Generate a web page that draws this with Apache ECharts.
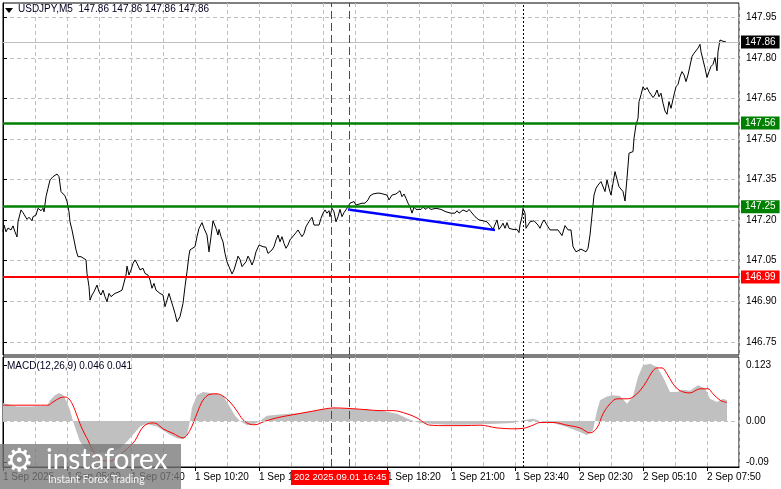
<!DOCTYPE html>
<html><head><meta charset="utf-8">
<script src="https://cdn.jsdelivr.net/npm/echarts@6/dist/echarts.min.js"></script>
<style>html,body{margin:0;padding:0;background:#fff}#c{width:781px;height:489px}</style>
</head><body><div id="c"></div>
<script>
// ---- data ----
const timeLabels = ['1 Sep 2025','1 Sep 05:00','1 Sep 07:40','1 Sep 10:20','1 Sep 13:00','1 Sep 15:40','1 Sep 18:20','1 Sep 21:00','1 Sep 23:40','2 Sep 02:30','2 Sep 05:10','2 Sep 07:50'];
const priceTicks = [146.75,146.90,147.05,147.20,147.35,147.50,147.65,147.80,147.95];
const macdTicks = [-0.09,0,0.123];
const macdTickText = ['-0.09','0.00','0.123'];
const greenLevels = [147.56,147.25];
const redLevels = [146.99];
const lastPrice = 147.86;
const trendLine = [[172.5,147.240],[246,147.164]];
const markerBars = [164.3,173.2];
const dottedBar = 260;
// [bar index, close]
const price = [
[0,147.157],[0.5,147.182],[1.5,147.157],[2.5,147.171],[4,147.164],[5,147.179],[6,147.157],[7,147.138],[7.5,147.194],[9,147.238],[10,147.228],[11,147.223],[12,147.203],[13,147.211],[14.5,147.198],[15,147.213],[16.5,147.219],[17.5,147.244],[19,147.235],[20,147.244],[20.5,147.231],[21.5,147.287],[22.5,147.318],[23.5,147.349],[25,147.361],[26,147.367],[27,147.371],[28,147.361],[29,147.306],[30,147.309],[31,147.290],[32,147.269],[33,147.231],[33.5,147.194],[34.5,147.164],[35.5,147.127],[36.5,147.090],[37.5,147.065],[39,147.065],[40,147.071],[41.5,147.053],[42,147.003],[43,146.954],[43.5,146.904],[44.5,146.923],[45.5,146.935],[47,146.960],[48,146.935],[49,146.923],[50,146.941],[51,146.917],[52,146.898],[53,146.929],[54,146.917],[55,146.911],[56,146.929],[57,146.923],[58,146.935],[59.5,146.941],[60.5,146.948],[61.5,146.997],[62,147.030],[63,146.997],[64,147.016],[65,147.040],[66,147.053],[67,147.040],[68.5,147.016],[70,147.022],[71,147.003],[72.5,146.997],[73.5,146.979],[74.5,146.948],[75.5,146.966],[76.5,146.941],[77.5,146.948],[78.5,146.929],[80,146.923],[81,146.880],[82,146.904],[83,146.929],[84,146.904],[85,146.880],[86,146.855],[87,146.824],[88.5,146.843],[90,146.892],[91,146.954],[92,147.009],[93,147.071],[93.5,147.090],[94.5,147.096],[96,147.102],[97,147.139],[98,147.170],[99.5,147.191],[100.5,147.170],[102,147.145],[103,147.083],[104,147.139],[105,147.198],[106.5,147.170],[107.5,147.145],[108,147.166],[109,147.139],[110,147.120],[111,147.077],[112,147.046],[113,147.028],[114.5,147.001],[115.5,147.016],[117,147.053],[117.5,147.067],[118.5,147.055],[119.5,147.028],[120.5,147.022],[121.5,147.046],[122.5,147.067],[123.5,147.053],[124.5,147.034],[125.5,147.053],[126.5,147.083],[128,147.108],[129,147.112],[130,147.102],[131.5,147.100],[132.5,147.077],[133.5,147.083],[134.5,147.090],[135.5,147.102],[136.5,147.127],[137.5,147.145],[138.5,147.120],[139.5,147.139],[140.5,147.114],[141.5,147.096],[142.5,147.108],[143.5,147.127],[144.5,147.133],[145.5,147.145],[146.5,147.154],[147.5,147.164],[148.5,147.151],[149.5,147.139],[150.5,147.151],[151.5,147.176],[152.5,147.189],[153.5,147.201],[154.5,147.211],[155.5,147.182],[156.5,147.182],[158,147.182],[159,147.207],[160,147.226],[161,147.238],[162,147.226],[163,147.235],[163.5,147.213],[164.5,147.244],[165.5,147.231],[166.5,147.194],[167.5,147.213],[168.5,147.240],[169.5,147.213],[170.5,147.228],[171.5,147.235],[172.5,147.250],[173.5,147.263],[174.5,147.256],[175.5,147.269],[176.5,147.256],[177.5,147.263],[179.5,147.263],[181,147.263],[182.5,147.275],[183.5,147.290],[185,147.297],[186,147.293],[187,147.300],[188.5,147.300],[190,147.297],[191,147.302],[192,147.293],[193,147.275],[194.5,147.293],[195.5,147.287],[196.5,147.297],[197.5,147.293],[198.5,147.309],[199.5,147.287],[200.5,147.297],[201.5,147.281],[202.5,147.263],[203.5,147.250],[204.5,147.226],[205.5,147.248],[206.5,147.240],[207.5,147.244],[209,147.240],[210,147.248],[211.5,147.240],[212.5,147.248],[214,147.240],[215,147.235],[216.5,147.244],[217.5,147.240],[219,147.240],[220,147.238],[221.5,147.231],[222.5,147.231],[224,147.226],[225,147.231],[226,147.226],[227,147.235],[228,147.226],[229,147.231],[230,147.238],[231,147.238],[232,147.231],[233,147.240],[234,147.231],[235,147.228],[236,147.213],[237,147.216],[238,147.201],[239,147.194],[240,147.198],[241,147.191],[242,147.194],[243,147.189],[244,147.176],[245,147.166],[246,147.170],[247,147.201],[248,147.166],[249,147.176],[250,147.189],[251,147.170],[252,147.191],[253,147.170],[254,147.164],[255,147.166],[256,147.161],[257,147.166],[258,147.154],[258.5,147.182],[259.5,147.213],[260,147.244],[261,147.226],[261.5,147.170],[262.5,147.182],[263.5,147.194],[264.5,147.201],[265.5,147.198],[266.5,147.201],[267.5,147.182],[268.5,147.170],[269.5,147.189],[270.5,147.201],[271.5,147.194],[272.5,147.176],[273.5,147.164],[275,147.164],[276,147.161],[277.5,147.164],[278.5,147.157],[279.5,147.143],[281,147.180],[282.5,147.164],[284,147.164],[285,147.102],[286.5,147.083],[287.5,147.083],[289,147.093],[290,147.090],[291.5,147.083],[292.5,147.096],[293.5,147.145],[294.5,147.219],[295.5,147.293],[296.5,147.318],[297.5,147.330],[299,147.343],[300,147.349],[301,147.306],[302,147.349],[303,147.318],[304,147.293],[305,147.337],[306,147.380],[307,147.380],[308,147.324],[309,147.330],[310,147.306],[311,147.271],[312,147.355],[313,147.448],[314,147.454],[315,147.454],[315.5,147.503],[316.5,147.553],[317.5,147.577],[318,147.639],[319,147.664],[320,147.694],[321,147.682],[322,147.691],[323,147.676],[324,147.670],[325,147.654],[326,147.664],[327,147.682],[328,147.657],[329,147.670],[330,147.633],[331,147.604],[332,147.592],[333,147.639],[334,147.614],[335,147.614],[335.5,147.664],[336.5,147.694],[337.5,147.703],[338.5,147.731],[339.5,147.750],[340.5,147.738],[341.5,147.713],[342.5,147.738],[343.5,147.744],[344.5,147.806],[345.5,147.818],[346.5,147.824],[347.5,147.837],[348.5,147.851],[349,147.824],[350,147.793],[351,147.763],[352,147.728],[353,147.750],[354,147.769],[355,147.777],[356,147.802],[357,147.753],[357.5,147.824],[358.5,147.867],[359.5,147.871],[360.5,147.861],[361.5,147.860]
];
const macdHist = [
[0,0.040],[3.5,0.036],[7,0.032],[13.5,0.032],[18.5,0.033],[22,0.033],[23.5,0.046],[26,0.057],[28,0.062],[30,0.058],[32,0.042],[33.5,0.024],[35,0.0],[36.5,-0.020],[38.5,-0.045],[41,-0.060],[43.5,-0.068],[48.5,-0.070],[53.5,-0.068],[58.5,-0.060],[62,-0.045],[65,-0.030],[68.5,-0.012],[72,-0.006],[73.5,-0.008],[77,-0.012],[80,-0.020],[83.5,-0.030],[87,-0.038],[90,-0.040],[92,-0.030],[93.5,0.0],[94.5,0.030],[97,0.057],[100,0.064],[103.5,0.062],[107,0.060],[110,0.055],[113.5,0.031],[116,0.012],[118.5,0.0],[122,-0.009],[126,-0.006],[128.5,0.0],[132,0.012],[140,0.015],[148.5,0.018],[157,0.024],[165,0.029],[173.5,0.027],[182,0.025],[190,0.022],[197,0.016],[203.5,0.003],[208.5,-0.004],[213.5,-0.006],[222,-0.008],[230,-0.008],[238.5,-0.007],[247,-0.006],[255,-0.004],[260,0.002],[265,0.005],[268.5,0.0],[275,-0.004],[282,-0.013],[288.5,-0.024],[292,-0.031],[295,-0.020],[297,0.023],[298.5,0.046],[302,0.054],[305,0.057],[308.5,0.055],[312,0.038],[315,0.055],[317.5,0.097],[320,0.123],[323.5,0.126],[327,0.119],[330,0.097],[333.5,0.064],[337,0.064],[340,0.069],[343.5,0.067],[347.5,0.079],[351,0.072],[353.5,0.049],[357,0.042],[360,0.049],[362,0.046]
];
const macdSignal = [
[0,0.035],[7,0.035],[15,0.035],[22.5,0.035],[25,0.042],[28.5,0.051],[31,0.053],[33.5,0.046],[36,0.024],[38.5,-0.006],[41,-0.030],[42.5,-0.042],[44.5,-0.062],[47,-0.078],[50,-0.087],[53.5,-0.088],[57,-0.080],[61,-0.065],[63.5,-0.055],[66,-0.043],[70,-0.013],[74.5,-0.004],[77,-0.006],[80,-0.017],[85,-0.027],[90,-0.037],[93.5,-0.020],[97,0.017],[100,0.046],[103.5,0.059],[107,0.060],[110,0.055],[113.5,0.042],[117,0.022],[120,0.003],[123.5,-0.007],[126,-0.008],[130,-0.002],[135,0.005],[140,0.010],[145,0.014],[150,0.018],[155,0.022],[160,0.026],[165,0.029],[172,0.028],[182,0.025],[188.5,0.023],[195,0.023],[202,0.016],[207,0.007],[213.5,-0.009],[222,-0.010],[230,-0.010],[238.5,-0.009],[247,-0.015],[255,-0.017],[260,-0.016],[265,-0.009],[268.5,-0.003],[275,-0.003],[282,-0.009],[288.5,-0.015],[293.5,-0.026],[297,-0.015],[300,0.016],[303.5,0.038],[307,0.049],[312,0.049],[315,0.053],[318.5,0.067],[322,0.089],[324.5,0.108],[327,0.117],[329.5,0.117],[332,0.104],[335,0.082],[338.5,0.067],[343.5,0.062],[348.5,0.071],[352.5,0.071],[355,0.060],[358.5,0.046],[362,0.041]
];

// ---- chart ----
const FONT = 'Liberation Sans';
const dashed = {color:'#c0c0c0', type:[4,3], width:1};
const chart = echarts.init(document.getElementById('c'));
function levelLine(v, lineColor, boxColor, width){
  return {yAxis:v, lineStyle:{color:lineColor, width:width, type:'solid'},
    label:{show:true, position:'end', distance:2, formatter:v.toFixed(2), color:'#fff', backgroundColor:boxColor,
      padding:[2,4,1,4], fontSize:10, fontFamily:FONT}};
}
const priceMarks = [
  levelLine(lastPrice,'#c0c0c0','#000',1),
  ...greenLevels.map(v=>levelLine(v,'#008000','#008000',2.5)),
  ...redLevels.map(v=>levelLine(v,'#ff0000','#ff0000',2)),
  ...markerBars.map(b=>({xAxis:b, lineStyle:{color:'#ff0000', width:1, type:[8,4]}, label:{show:false}})),
  {xAxis:dottedBar, lineStyle:{color:'#000', width:1, type:[2,2]}, label:{show:false}}
];
const macdMarks = [
  {yAxis:0, lineStyle:{color:'#c0c0c0', width:1, type:[4,3]}, label:{show:false}},
  ...markerBars.map(b=>({xAxis:b, lineStyle:{color:'#ff0000', width:1, type:[8,4]}, label:{show:false}})),
  {xAxis:dottedBar, lineStyle:{color:'#000', width:1, type:[2,2]}, label:{show:false}}
];
const option = {
  animation:false,
  backgroundColor:'#fff',
  grid:[
    {left:3, top:3, width:736, height:352, show:true, borderColor:'#000', borderWidth:1},
    {left:3, top:357, width:736, height:110, show:true, borderColor:'#000', borderWidth:1}
  ],
  xAxis:[
    {gridIndex:0, type:'value', min:0, max:368, interval:16, axisLine:{show:false}, axisTick:{show:false}, axisLabel:{show:false}, splitLine:{show:true, lineStyle:dashed}},
    {gridIndex:1, type:'value', min:0, max:368, interval:16, position:'bottom', axisLine:{show:true, onZero:false, lineStyle:{color:'#000'}}, axisTick:{show:false}, axisLabel:{show:false}, splitLine:{show:true, lineStyle:dashed}},
    {gridIndex:1, type:'value', min:0, max:368, interval:32, position:'bottom', axisLine:{show:false, onZero:false}, axisTick:{show:true, length:4, lineStyle:{color:'#000'}},
      axisLabel:{show:true, align:'left', margin:5, fontSize:10, fontFamily:FONT, color:'#000', showMaxLabel:false,
        formatter:v=>{const k=Math.round(v/32); return (Math.abs(v-k*32)<1e-6 && k<timeLabels.length)?timeLabels[k]:'';}},
      splitLine:{show:false}}
  ],
  yAxis:[
    {gridIndex:0, type:'value', position:'right', min:146.701, max:148.004,
      axisLine:{show:true, lineStyle:{color:'#000'}}, axisTick:{show:true, length:4, customValues:priceTicks, lineStyle:{color:'#000'}},
      axisLabel:{customValues:priceTicks, margin:7, fontSize:10, fontFamily:FONT, color:'#000', formatter:v=>v.toFixed(2)},
      splitLine:{show:true, lineStyle:dashed}},
    {gridIndex:1, type:'value', position:'right', min:-0.101, max:0.141,
      axisLine:{show:true, lineStyle:{color:'#000'}}, axisTick:{show:true, length:4, customValues:macdTicks, lineStyle:{color:'#000'}},
      axisLabel:{customValues:macdTicks, margin:7, fontSize:10, fontFamily:FONT, color:'#000',
        formatter:v=>{const i=macdTicks.findIndex(t=>Math.abs(t-v)<1e-6); return i>=0?macdTickText[i]:'';}},
      splitLine:{show:false}}
  ],
  series:[
    {type:'line', xAxisIndex:0, yAxisIndex:0, data:price, showSymbol:false, symbol:'none', lineStyle:{color:'#000', width:1}, z:3,
      markLine:{silent:true, symbol:['none','none'], animation:false, data:priceMarks}},
    {type:'line', xAxisIndex:0, yAxisIndex:0, data:trendLine, showSymbol:false, symbol:'none', lineStyle:{color:'#0000ff', width:2.5}, z:4},
    {type:'line', xAxisIndex:1, yAxisIndex:1, data:macdHist, showSymbol:false, symbol:'none', lineStyle:{width:0, color:'#c0c0c0'}, itemStyle:{color:'#c0c0c0'}, areaStyle:{color:'#c0c0c0', opacity:1}, z:2,
      markLine:{silent:true, symbol:['none','none'], animation:false, data:macdMarks}},
    {type:'line', xAxisIndex:1, yAxisIndex:1, data:macdSignal, showSymbol:false, symbol:'none', smooth:0.35, lineStyle:{color:'#ff0000', width:1}, z:3}
  ],
  graphic:[
    {type:'polygon', z:100, shape:{points:[[5,8],[13,8],[9,13]]}, style:{fill:'#000'}},
    {type:'text', z:100, left:18, top:4, style:{text:'USDJPY,M5  147.86 147.86 147.86 147.86', fill:'#000020', font:'10px "Liberation Sans"'}},
    {type:'text', z:100, left:7, top:361, style:{text:'MACD(12,26,9) 0.046 0.041', fill:'#000020', font:'10px "Liberation Sans"'}},
    {type:'rect', z:100, shape:{x:291, y:470, width:98, height:15}, style:{fill:'#ff0000'}},
    {type:'text', z:101, left:294, top:472, style:{text:'202 2025.09.01 16:45', fill:'#fff', font:'9.5px "Liberation Sans"'}},
    {type:'rect', z:100, shape:{x:0, y:444, width:181, height:45}, style:{fill:'rgba(120,120,120,0.78)'}},
    {type:'text', z:101, left:5, top:447, style:{text:'\u2699', fill:'#fff', font:'32px "DejaVu Sans"'}},
    {type:'text', z:101, left:46, top:446, style:{text:'instaforex', fill:'#fff', font:'28px Lato'}},
    {type:'text', z:101, left:48, top:474, style:{text:'Instant Forex Trading', fill:'rgba(255,255,255,0.9)', font:'10.5px Lato'}}
  ]
};
chart.setOption(option);
</script>
</body></html>
